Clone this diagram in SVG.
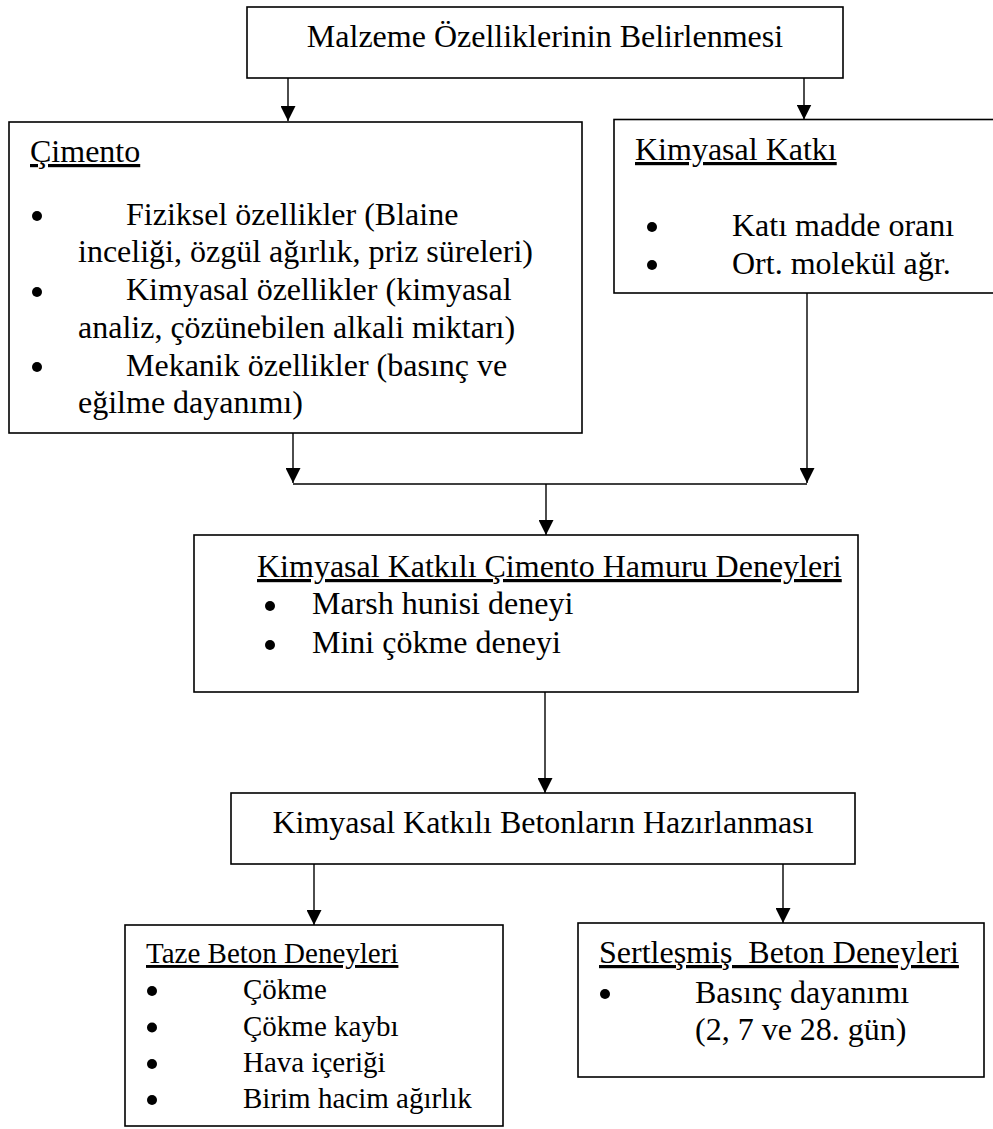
<svg xmlns="http://www.w3.org/2000/svg" width="993" height="1129" viewBox="0 0 993 1129">
<style>
  .box { fill: #fff; stroke: #000; stroke-width: 1.6; }
  .t { font-family: "Liberation Serif", "Times New Roman", serif; font-size: 32px; fill: #000; }
  .s { font-size: 29px; }
  .u { text-decoration: underline; }
  .c { text-anchor: middle; }
  .dot { fill: #000; }
  .conn { stroke: #000; stroke-width: 1.4; fill: none; }
</style>
<defs>
  <marker id="ah" markerUnits="userSpaceOnUse" markerWidth="15" markerHeight="15" refX="15" refY="7.5" orient="auto">
    <path d="M0,0 L15,7.5 L0,15 z" fill="#000"/>
  </marker>
</defs>
<rect width="993" height="1129" fill="#fff"/>

<g id="connectors">
  <line class="conn" x1="288" y1="78" x2="288" y2="121" marker-end="url(#ah)"/>
  <line class="conn" x1="804" y1="78" x2="804" y2="119.5" marker-end="url(#ah)"/>
  <line class="conn" x1="293" y1="433" x2="293" y2="483" marker-end="url(#ah)"/>
  <line class="conn" x1="807" y1="293" x2="807" y2="483" marker-end="url(#ah)"/>
  <line class="conn" x1="293" y1="484" x2="807" y2="484"/>
  <line class="conn" x1="546" y1="484" x2="546" y2="535" marker-end="url(#ah)"/>
  <line class="conn" x1="545" y1="692" x2="545" y2="793" marker-end="url(#ah)"/>
  <line class="conn" x1="314" y1="864" x2="314" y2="925" marker-end="url(#ah)"/>
  <line class="conn" x1="783" y1="864" x2="783" y2="923" marker-end="url(#ah)"/>
</g>

<g id="node-malzeme">
  <rect class="box" x="247" y="7" width="596" height="71"/>
  <text class="t c" x="545" y="47">Malzeme Özelliklerinin Belirlenmesi</text>
</g>

<g id="node-cimento">
  <rect class="box" x="9" y="122" width="573" height="311"/>
  <text class="t u" x="30" y="162">Çimento</text>
  <circle class="dot" cx="37" cy="216" r="5"/>
  <text class="t" x="126" y="225">Fiziksel özellikler (Blaine</text>
  <text class="t" x="78" y="262">inceliği, özgül ağırlık, priz süreleri)</text>
  <circle class="dot" cx="37" cy="292" r="5"/>
  <text class="t" x="126" y="300">Kimyasal özellikler (kimyasal</text>
  <text class="t" x="78" y="337.5">analiz, çözünebilen alkali miktarı)</text>
  <circle class="dot" cx="37" cy="367" r="5"/>
  <text class="t" x="126" y="376">Mekanik özellikler (basınç ve</text>
  <text class="t" x="78" y="413">eğilme dayanımı)</text>
</g>

<g id="node-katki">
  <rect class="box" x="614" y="119.5" width="384" height="173.5"/>
  <text class="t u" x="635" y="160">Kimyasal Katkı</text>
  <circle class="dot" cx="652" cy="227" r="5"/>
  <text class="t" x="732" y="236">Katı madde oranı</text>
  <circle class="dot" cx="652" cy="265" r="5"/>
  <text class="t" x="732" y="274">Ort. molekül ağr.</text>
</g>

<g id="node-hamur">
  <rect class="box" x="194" y="535" width="664" height="157"/>
  <text class="t u" x="257" y="577">Kimyasal Katkılı Çimento Hamuru Deneyleri</text>
  <circle class="dot" cx="270" cy="606" r="5"/>
  <text class="t" x="312" y="614">Marsh hunisi deneyi</text>
  <circle class="dot" cx="270" cy="645" r="5"/>
  <text class="t" x="312" y="653">Mini çökme deneyi</text>
</g>

<g id="node-betonlar">
  <rect class="box" x="231" y="793" width="624" height="71"/>
  <text class="t c" x="543" y="833">Kimyasal Katkılı Betonların Hazırlanması</text>
</g>

<g id="node-taze">
  <rect class="box" x="125" y="925" width="378" height="201"/>
  <text class="t s u" x="146" y="963">Taze Beton Deneyleri</text>
  <circle class="dot" cx="152" cy="991" r="5"/>
  <text class="t s" x="243" y="999">Çökme</text>
  <circle class="dot" cx="152" cy="1027.5" r="5"/>
  <text class="t s" x="243" y="1035.5">Çökme kaybı</text>
  <circle class="dot" cx="152" cy="1064" r="5"/>
  <text class="t s" x="243" y="1072">Hava içeriği</text>
  <circle class="dot" cx="152" cy="1100" r="5"/>
  <text class="t s" x="243" y="1108">Birim hacim ağırlık</text>
</g>

<g id="node-sertlesmis">
  <rect class="box" x="578" y="923" width="406" height="154"/>
  <text class="t u" x="599" y="963" xml:space="preserve">Sertleşmiş  Beton Deneyleri</text>
  <circle class="dot" cx="605" cy="994" r="5"/>
  <text class="t" x="695" y="1003">Basınç dayanımı</text>
  <text class="t" x="695" y="1040">(2, 7 ve 28. gün)</text>
</g>
</svg>
